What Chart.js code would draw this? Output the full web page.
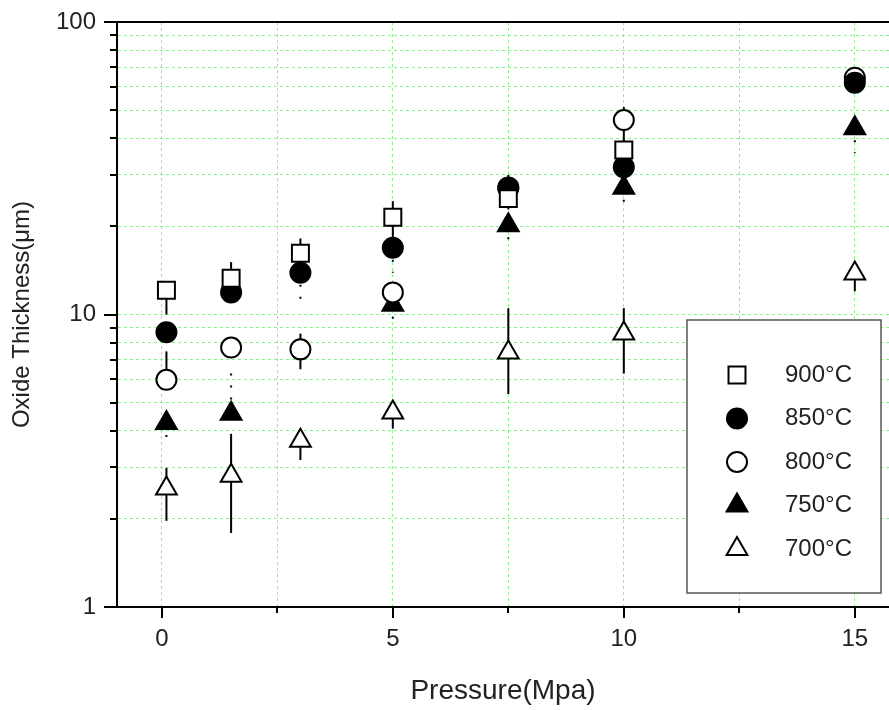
<!DOCTYPE html>
<html>
<head>
<meta charset="utf-8">
<script src="https://cdn.jsdelivr.net/npm/chart.js"></script>
<style>
  html, body { margin: 0; padding: 0; background: #fff; overflow: hidden; }
  #wrap { width: 889px; height: 710px; }
  canvas { display: block; }
</style>
</head>
<body>
<div id="wrap"><canvas id="oxideChart"></canvas></div>
<script>
/**
 * Values.
 */
var pressure = [0.1, 1.5, 3, 5, 7.5, 10, 15];
var seriesLabels = ['900°C', '850°C', '800°C', '750°C', '700°C'];

var t900 = [12.1, 13.3, 16.2, 21.5, 24.9, 36.5, null];
var t850 = [8.7, 11.9, 13.9, 16.9, 27.2, 31.9, 62];
var t800 = [5.98, 7.71, 7.6, 11.9, 27, 46.2, 64.5];
var t750 = [4.26, 4.58, null, 10.8, 20.2, 27.1, 43.3];
var t700 = [2.54, 2.81, 3.7, 4.62, 7.41, 8.61, 13.8];

// error bars, upper and lower parts
var up900 = [0, 1.8, 2.0, 2.9, 5.1, 3, 0];
var dn900 = [2.1, 1.5, 1.5, 3.3, 2, 2, 0];
var up850 = [0, 0, 0, 0, 0, 0, 0];
var dn850 = [0, 0.5, 2.9, 3, 1.5, 2, 3];
var up800 = [1.5, 0.3, 1.0, 0.3, 1, 5, 3];
var dn800 = [0.3, 0.3, 1.1, 0.3, 1, 8, 0];
var up750 = [0, 1.7, 0, 0, 0, 0, 0];
var dn750 = [0.6, 0, 0, 1.4, 3.4, 3.7, 7.7];
var up700 = [0.45, 1.1, 0.3, 0.2, 3.1, 1.9, 0.3];
var dn700 = [0.57, 1.02, 0.52, 0.55, 2.06, 2.33, 1.8];

var yTickLabels = [1, 10, 100];
var xTickLabels = [0, 5, 10, 15];

// log tick positions 1,2,..,9,10,20,..,100
var logTicks = [];
[1, 10].forEach(function(d) {
    for (var k = 1; k < 10; k++) logTicks.push(k * d);
});
logTicks.push(100);

function points(vals, up, dn) {
    var out = [];
    for (var i = 0; i < pressure.length; i++) {
        if (vals[i] === null) continue;
        out.push({x: pressure[i], y: vals[i], up: up[i], dn: dn[i]});
    }
    return out;
}

function series(label, vals, up, dn, style, radius, fill, dash) {
    return {
        label: label,
        data: points(vals, up, dn),
        showLine: false,
        pointStyle: style,
        pointRadius: radius,
        pointBorderWidth: 2,
        pointBorderColor: '#000',
        pointBackgroundColor: fill,
        errDash: dash
    };
}

/**
 * Error bars drawn under the markers.
 */
var errorBars = {
    id: 'errorBars',
    beforeDatasetsDraw: function(chart) {
        var ctx = chart.ctx, x = chart.scales.x, y = chart.scales.y, a = chart.chartArea;
        ctx.save();
        ctx.beginPath();
        ctx.rect(a.left, a.top, a.right - a.left, a.bottom - a.top);
        ctx.clip();
        chart.data.datasets.forEach(function(ds) {
            ctx.strokeStyle = '#000';
            ctx.lineWidth = 2;
            ctx.setLineDash(ds.errDash);
            ds.data.forEach(function(p) {
                if (!p.up && !p.dn) return;
                var px = x.getPixelForValue(p.x);
                ctx.beginPath();
                ctx.moveTo(px, y.getPixelForValue(p.y + p.up));
                ctx.lineTo(px, y.getPixelForValue(p.y - p.dn));
                ctx.stroke();
            });
        });
        ctx.restore();
    }
};

/**
 * Axis ticks (major and minor), top frame line and the boxed legend.
 */
var frame = {
    id: 'frame',
    afterDraw: function(chart) {
        var ctx = chart.ctx, a = chart.chartArea, x = chart.scales.x, y = chart.scales.y;
        ctx.save();
        ctx.strokeStyle = '#000';
        ctx.lineWidth = 2;
        ctx.beginPath();
        ctx.moveTo(a.left - 1, a.top);
        ctx.lineTo(a.right, a.top);
        ctx.stroke();

        y.ticks.forEach(function(t) {
            var py = Math.round(y.getPixelForValue(t.value));
            var major = yTickLabels.indexOf(t.value) >= 0;
            ctx.beginPath();
            ctx.moveTo(a.left, py);
            ctx.lineTo(a.left - (major ? 13 : 7), py);
            ctx.stroke();
        });
        x.ticks.forEach(function(t) {
            var px = Math.round(x.getPixelForValue(t.value));
            var major = xTickLabels.indexOf(t.value) >= 0;
            ctx.beginPath();
            ctx.moveTo(px, a.bottom);
            ctx.lineTo(px, a.bottom + (major ? 11 : 6));
            ctx.stroke();
        });

        // legend box
        var bx = 687, by = 320, bw = 194, bh = 273;
        ctx.fillStyle = '#fff';
        ctx.fillRect(bx, by, bw, bh);
        ctx.strokeStyle = '#555';
        ctx.lineWidth = 1.5;
        ctx.strokeRect(bx, by, bw, bh);
        chart.data.datasets.forEach(function(ds, i) {
            var cy = 375 + i * 43.5;
            ctx.fillStyle = ds.pointBackgroundColor;
            ctx.strokeStyle = '#000';
            ctx.lineWidth = 2;
            ctx.setLineDash([]);
            Chart.helpers.drawPoint(ctx, {pointStyle: ds.pointStyle, radius: ds.pointRadius, borderWidth: 2, rotation: 0}, 737, cy);
            ctx.fillStyle = '#222';
            ctx.font = '24px "Liberation Sans", Arial, sans-serif';
            ctx.textBaseline = 'middle';
            ctx.textAlign = 'left';
            ctx.fillText(ds.label, 785, cy);
        });
        ctx.restore();
    }
};

var gridStyle = {
    color: 'rgba(110, 230, 110, 0.75)',
    lineWidth: 1,
    drawTicks: false
};

var labelFont = { family: '"Liberation Sans", Arial, sans-serif', size: 24 };

var oxideChart = new Chart(document.getElementById('oxideChart').getContext('2d'), {
    type: 'scatter',
    data: {
        datasets: [
            series(seriesLabels[0], t900, up900, dn900, 'rect', 12, '#fff', []),
            series(seriesLabels[1], t850, up850, dn850, 'circle', 10, '#000', [2, 10]),
            series(seriesLabels[2], t800, up800, dn800, 'circle', 10, '#fff', []),
            series(seriesLabels[3], t750, up750, dn750, 'triangle', 12, '#000', [2, 10]),
            series(seriesLabels[4], t700, up700, dn700, 'triangle', 12, '#fff', [])
        ]
    },
    options: {
        responsive: true,
        maintainAspectRatio: false,
        animation: false,
        events: [],
        layout: { autoPadding: false, padding: { top: 22, left: 0, right: 0, bottom: 0 } },
        plugins: {
            legend: { display: false },
            tooltip: { enabled: false }
        },
        scales: {
            x: {
                type: 'linear',
                min: -0.97,
                max: 15.74,
                afterFit: function(scale) {
                    scale.height = 103;
                    scale.paddingLeft = 0;
                    scale.paddingRight = 0;
                },
                grid: gridStyle,
                border: { color: '#000', width: 2, dash: [3, 3] },
                ticks: {
                    stepSize: 2.5,
                    includeBounds: false,
                    autoSkip: false,
                    maxRotation: 0,
                    padding: 18,
                    color: '#222',
                    font: labelFont,
                    callback: function(v) { return xTickLabels.indexOf(v) >= 0 ? String(v) : ''; }
                },
                title: {
                    display: true,
                    text: 'Pressure(Mpa)',
                    color: '#222',
                    font: { family: '"Liberation Sans", Arial, sans-serif', size: 28 },
                    padding: { top: 0, bottom: 2 }
                }
            },
            y: {
                type: 'logarithmic',
                min: 1,
                max: 100,
                afterBuildTicks: function(scale) {
                    scale.ticks = logTicks.map(function(v) { return {value: v}; });
                },
                afterFit: function(scale) {
                    scale.width = 117;
                    scale.paddingTop = 0;
                    scale.paddingBottom = 0;
                },
                grid: gridStyle,
                border: { color: '#000', width: 2, dash: [3, 3] },
                ticks: {
                    autoSkip: false,
                    padding: 21,
                    color: '#222',
                    font: labelFont,
                    callback: function(v) { return yTickLabels.indexOf(v) >= 0 ? String(v) : ''; }
                },
                title: {
                    display: true,
                    text: 'Oxide Thickness(μm)',
                    color: '#222',
                    font: labelFont,
                    padding: { top: 8, bottom: 0 }
                }
            }
        }
    },
    plugins: [errorBars, frame]
});
</script>
</body>
</html>
